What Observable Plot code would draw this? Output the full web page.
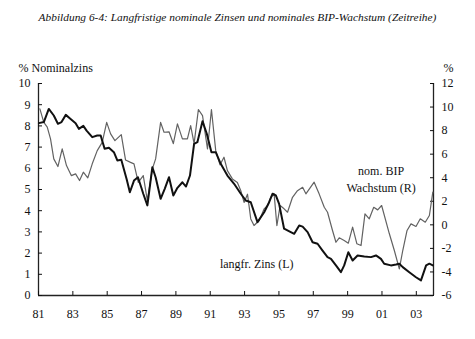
<!DOCTYPE html>
<html>
<head>
<meta charset="utf-8">
<script src="https://cdn.jsdelivr.net/npm/d3@7"></script>
<script src="https://cdn.jsdelivr.net/npm/@observablehq/plot@0.6"></script>
<style>
  html, body { margin: 0; padding: 0; background: #fff; }
  #title { width: 475px; height: 34px; line-height: 34px; text-align: center;
    font-family: "Liberation Serif", serif; font-style: italic; font-size: 11.4px; color: #111; }
</style>
</head>
<body>
<div id="title">Abbildung 6-4: Langfristige nominale Zinsen und nominales BIP-Wachstum (Zeitreihe)</div>
<div id="chart"></div>
<script>
// Long-term nominal interest rate (left axis, %)
const zinsYears = [1981.02,1981.31,1981.60,1981.89,1982.13,1982.34,1982.59,1982.87,1983.16,1983.35,1983.61,1983.80,1984.13,1984.42,1984.62,1984.85,1985.10,1985.39,1985.59,1985.82,1986.13,1986.32,1986.56,1986.79,1986.99,1987.10,1987.34,1987.63,1987.82,1988.11,1988.35,1988.60,1988.85,1989.09,1989.38,1989.59,1989.82,1990.06,1990.25,1990.55,1990.80,1991.07,1991.32,1991.61,1992.00,1992.39,1992.78,1993.07,1993.36,1993.75,1994.14,1994.43,1994.63,1994.82,1995.01,1995.30,1995.69,1995.89,1996.18,1996.38,1996.67,1996.96,1997.25,1997.54,1997.83,1998.03,1998.32,1998.61,1998.80,1999.04,1999.29,1999.58,1999.97,2000.36,2000.65,2000.94,2001.13,2001.52,2001.82,2002.01,2002.21,2002.59,2002.98,2003.27,2003.57,2003.76,2003.96];
const zinsValues = [8.13,8.18,8.8,8.49,8.1,8.18,8.52,8.33,8.13,7.86,8.0,7.78,7.47,7.55,7.55,6.92,6.97,6.76,6.37,6.4,5.5,4.87,5.42,5.58,5.08,4.8,4.25,6.05,5.58,4.56,5.03,5.58,4.72,5.08,5.34,5.14,5.66,7.15,7.23,8.22,7.63,6.76,6.76,6.21,5.66,5.27,4.8,4.48,4.4,3.46,3.93,4.4,4.8,4.72,4.32,3.15,2.99,2.91,3.3,3.25,2.99,2.51,2.44,2.12,1.81,1.73,1.42,1.1,1.42,2.04,1.65,1.89,1.84,1.81,1.89,1.73,1.5,1.42,1.46,1.5,1.34,1.1,0.86,0.71,1.42,1.5,1.42];

// Nominal GDP growth (right axis, %)
const bipYears = [1981.08,1981.31,1981.51,1981.70,1981.89,1982.13,1982.38,1982.63,1982.91,1983.16,1983.39,1983.61,1983.87,1984.13,1984.42,1984.71,1984.97,1985.20,1985.45,1985.82,1986.07,1986.36,1986.56,1986.81,1987.10,1987.34,1987.63,1987.82,1988.11,1988.31,1988.60,1988.85,1989.09,1989.38,1989.67,1989.86,1990.06,1990.31,1990.55,1990.84,1991.07,1991.32,1991.57,1991.80,1992.00,1992.29,1992.58,1992.78,1992.97,1993.17,1993.36,1993.55,1993.85,1994.14,1994.34,1994.53,1994.72,1994.88,1995.07,1995.30,1995.50,1995.79,1996.08,1996.38,1996.57,1997.05,1997.34,1997.64,1997.83,1998.12,1998.32,1998.51,1998.80,1999.04,1999.29,1999.54,1999.78,2000.01,2000.26,2000.52,2000.75,2000.98,2001.43,2001.72,2002.01,2002.21,2002.46,2002.69,2002.98,2003.23,2003.52,2003.76,2003.96];
const bipValues = [9.85,8.7,8.29,7.3,5.6,4.95,6.45,5.03,4.18,4.33,3.76,4.47,3.99,5.18,6.3,7.0,8.7,7.72,7.15,7.66,5.5,5.3,5.18,3.6,4.18,2.06,4.75,5.6,8.7,7.86,7.9,6.9,8.57,7.3,7.3,8.43,6.9,9.79,9.28,6.45,9.79,6.3,5.1,5.74,4.6,3.9,3.6,2.9,1.9,2.6,0.5,-0.06,0.37,1.36,1.64,2.34,2.63,-0.06,1.64,1.36,1.07,2.34,2.9,3.19,2.63,3.62,2.63,1.49,1.07,-0.48,-1.48,-1.1,-1.33,-1.56,-0.2,-1.61,-1.76,0.93,0.51,1.49,1.27,1.64,-0.76,-2.18,-3.74,-2.18,-0.48,0.08,-0.14,0.51,0.22,0.79,2.77];

const xTicks = [1981,1983,1985,1987,1989,1991,1993,1995,1997,1999,2001,2003];
const leftTicks = [0,1,2,3,4,5,6,7,8,9,10];
const rightTicks = [-6,-4,-2,0,2,4,6,8,10,12];
const xDomain = [1981, 2004];
const leftDomain = [0, 10];
const rightDomain = [-6, 12];

const labels = [
  {x: 2000.95, y: 5.55, text: "nom. BIP\nWachstum (R)"},
  {x: 1993.71, y: 1.56, text: "langfr. Zins (L)"}
];

// map right-axis values onto the left scale
const toLeft = v => leftDomain[0] + (v - rightDomain[0]) * (leftDomain[1] - leftDomain[0]) / (rightDomain[1] - rightDomain[0]);
const fromLeft = y => rightDomain[0] + (y - leftDomain[0]) * (rightDomain[1] - rightDomain[0]) / (leftDomain[1] - leftDomain[0]);

const zins = zinsYears.map((x, i) => ({x, y: zinsValues[i]}));
const bip = bipYears.map((x, i) => ({x, y: toLeft(bipValues[i])}));

const chart = Plot.plot({
  width: 475,
  height: 305,
  marginTop: 49,
  marginBottom: 44,
  marginLeft: 38,
  marginRight: 42,
  style: {fontFamily: "Liberation Serif, serif", fontSize: "12px", background: "#fff", color: "#111"},
  x: {domain: xDomain},
  y: {domain: leftDomain},
  marks: [
    Plot.ruleX(xDomain, {y1: leftDomain[0], y2: leftDomain[1], stroke: "#222", strokeWidth: 1.3}),
    Plot.ruleY([leftDomain[0]], {stroke: "#222", strokeWidth: 1.3}),
    Plot.axisX({ticks: xTicks, tickSize: -4, tickPadding: 18, tickFormat: d => String(d % 100).padStart(2, "0"), label: null, fontSize: 12}),
    Plot.axisY({anchor: "left", ticks: leftTicks, tickSize: -4, tickPadding: 12, label: null, fontSize: 12}),
    Plot.axisY({anchor: "right", ticks: rightTicks.map(toLeft), tickSize: -4, tickPadding: 12, tickFormat: d => String(Math.round(fromLeft(d))), label: null, fontSize: 12}),
    Plot.line(bip, {x: "x", y: "y", stroke: "#626262", strokeWidth: 1.2}),
    Plot.line(zins, {x: "x", y: "y", stroke: "#111", strokeWidth: 2}),
    Plot.text(labels, {x: "x", y: "y", text: "text", fontSize: 12, lineHeight: 1.45, fill: "#111"}),
    Plot.text(["% Nominalzins"], {frameAnchor: "top-left", dx: -20, dy: -20, textAnchor: "start", fontSize: 12, fill: "#111"}),
    Plot.text(["%"], {frameAnchor: "top-right", dx: 10, dy: -20, textAnchor: "start", fontSize: 12, fill: "#111"})
  ]
});
document.getElementById("chart").appendChild(chart);
</script>
</body>
</html>
